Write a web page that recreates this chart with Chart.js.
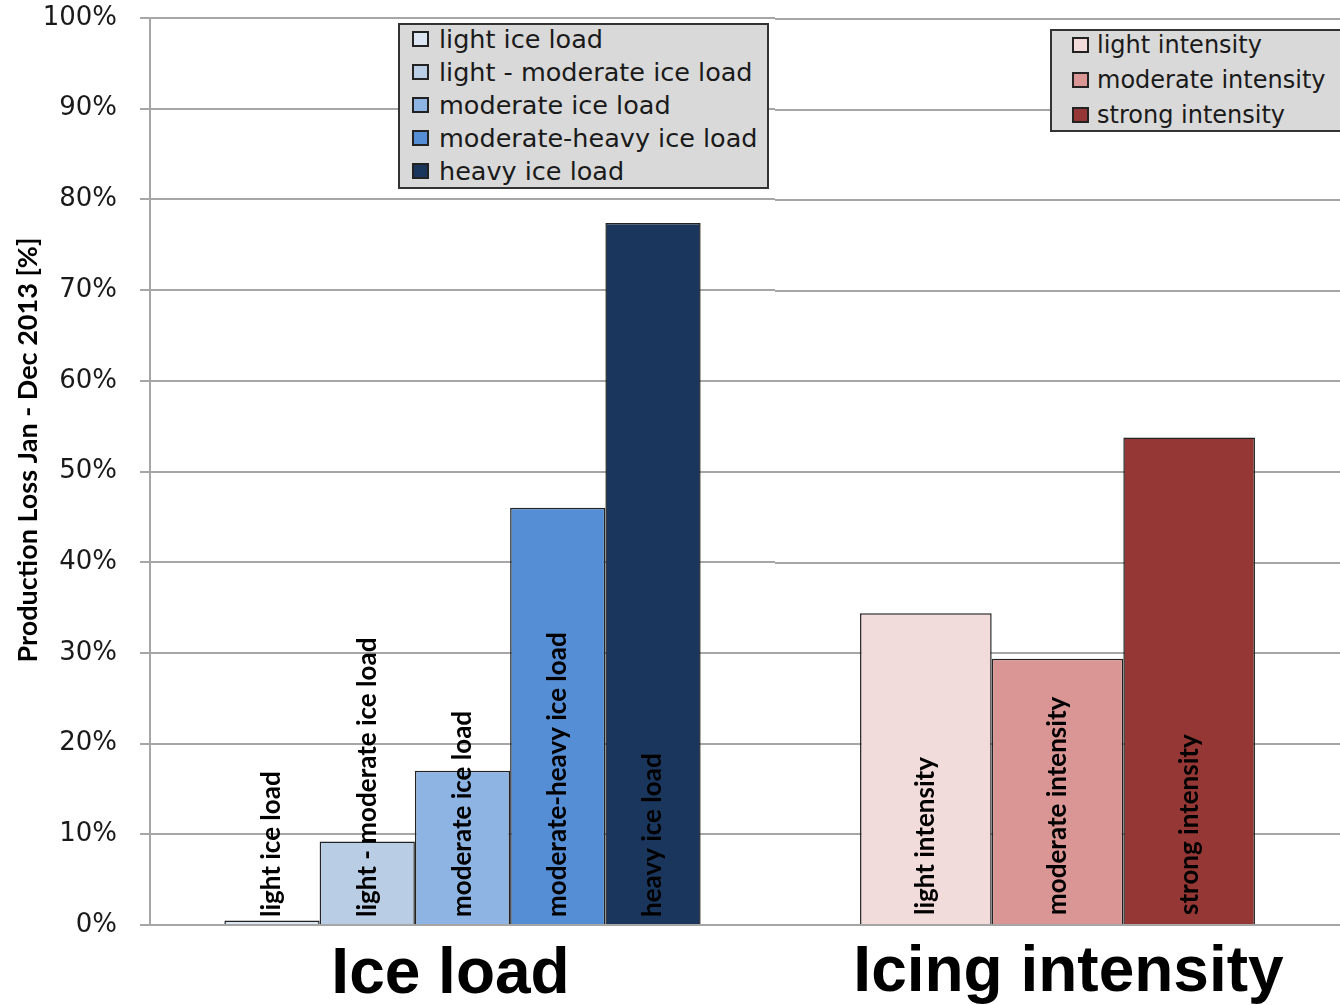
<!DOCTYPE html>
<html><head><meta charset="utf-8">
<script src="https://cdn.jsdelivr.net/npm/chart.js@4.4.0/dist/chart.umd.min.js"></script>
<style>
html,body{margin:0;padding:0;background:#fff;}
#wrap{position:relative;width:1340px;height:1005px;overflow:hidden;background:#fff;}
#c1{position:absolute;left:0;top:0;}
#c2{position:absolute;left:775px;top:0;}
.legend{position:absolute;background:#d9d9d9;border:2px solid #333;box-sizing:border-box;font-family:"DejaVu Sans";color:#1a1a1a;}
.legend .row{position:absolute;white-space:nowrap;height:30px;line-height:30px;}
.legend .sw{position:absolute;top:7px;width:17px;height:16px;border:2px solid #222;box-sizing:border-box;}
.legend .tx{position:absolute;top:0;}
</style>
</head><body>
<div id="wrap">
<canvas id="c1" width="775" height="1005"></canvas>
<canvas id="c2" width="565" height="1005"></canvas>
<div id="leg1" class="legend" style="left:398px;top:23px;width:371px;height:166px;font-size:25.5px;"></div>
<div id="leg2" class="legend" style="left:1050px;top:29px;width:310px;height:103px;font-size:24px;"></div>
</div>
<script>
// ---- data ----
const groupLabels = ['Ice load', 'Icing intensity'];
const iceCategories = ['light ice load', 'light - moderate ice load', 'moderate ice load', 'moderate-heavy ice load', 'heavy ice load'];
const iceValues = [0.5, 9.2, 17.0, 46.0, 77.4];
const iceColors = ['#dce6f2', '#b9cde5', '#8eb4e3', '#558ed5', '#1a365d'];
const intensityCategories = ['light intensity', 'moderate intensity', 'strong intensity'];
const intensityValues = [34.4, 29.4, 53.8];
const intensityColors = ['#f2dcdb', '#d99694', '#953735'];
const yTickValues = [0, 10, 20, 30, 40, 50, 60, 70, 80, 90, 100];
const yTitle = 'Production Loss Jan - Dec 2013 [%]';

// ---- helpers ----
const barTextPlugin = {
  id: 'barText',
  afterDatasetsDraw(chart, args, opts) {
    const ctx = chart.ctx;
    ctx.save();
    ctx.font = opts.font;
    ctx.fillStyle = '#000';
    ctx.textAlign = 'left';
    ctx.textBaseline = 'middle';
    chart.data.datasets.forEach((ds, i) => {
      const meta = chart.getDatasetMeta(i);
      meta.data.forEach(bar => {
        ctx.save();
        ctx.translate(bar.x, bar.base - opts.offset);
        ctx.rotate(-Math.PI / 2);
        ctx.fillText(ds.label, 0, 0);
        ctx.restore();
      });
    });
    ctx.restore();
  }
};

const yTitlePlugin = {
  id: 'yTitle',
  afterDraw(chart, args, opts) {
    if (!opts.text) return;
    const ctx = chart.ctx;
    ctx.save();
    ctx.font = opts.font;
    ctx.fillStyle = '#000';
    ctx.textAlign = 'center';
    ctx.textBaseline = 'middle';
    ctx.translate(opts.x, opts.y);
    ctx.rotate(-Math.PI / 2);
    ctx.fillText(opts.text, 0, 0);
    ctx.restore();
  }
};

function makeDatasets(cats, vals, cols) {
  return cats.map((c, i) => ({
    label: c,
    data: [vals[i]],
    backgroundColor: cols[i],
    borderColor: '#222',
    borderWidth: 1.5
  }));
}

const gridColor = '#a6a6a6';
const bigFont = {family: 'Liberation Sans', weight: 'bold', size: 64};

function yTickCb(v) { return yTickValues.includes(v) ? v + '%' : ''; }

new Chart(document.getElementById('c1'), {
  type: 'bar',
  data: {labels: [groupLabels[0]], datasets: makeDatasets(iceCategories, iceValues, iceColors)},
  options: {
    responsive: false, animation: false,
    layout: {padding: {top: 18, left: 0, right: 0, bottom: 0}},
    datasets: {bar: {categoryPercentage: 0.762, barPercentage: 1}},
    plugins: {legend: {display: false}, tooltip: {enabled: false},
      barText: {font: 'bold 26px Lato', offset: 7},
      yTitle: {text: yTitle, font: 'bold 27px Lato', x: 28, y: 450}},
    scales: {
      x: {
        ticks: {font: bigFont, color: '#000', padding: 4, labelOffset: -12},
        grid: {display: false}, border: {display: false},
        afterFit(s) { s.height = 80; }
      },
      y: {
        min: 0, max: 100,
        ticks: {stepSize: 10, callback: yTickCb, font: {family: 'DejaVu Sans', size: 26}, color: '#1a1a1a', padding: 23},
        grid: {color: gridColor, lineWidth: 2, tickLength: 10},
        border: {color: gridColor, width: 2},
        afterFit(s) { s.width = 150; s.paddingTop = 0; s.paddingBottom = 0; }
      }
    }
  },
  plugins: [barTextPlugin, yTitlePlugin]
});

new Chart(document.getElementById('c2'), {
  type: 'bar',
  data: {labels: [groupLabels[1]], datasets: makeDatasets(intensityCategories, intensityValues, intensityColors)},
  options: {
    responsive: false, animation: false,
    layout: {padding: {top: 19, left: 0, right: 0, bottom: 0}},
    datasets: {bar: {categoryPercentage: 0.699, barPercentage: 1}},
    plugins: {legend: {display: false}, tooltip: {enabled: false},
      barText: {font: 'bold 26px Lato', offset: 9}},
    scales: {
      x: {
        ticks: {font: bigFont, color: '#000', padding: 2, labelOffset: 11},
        grid: {display: false}, border: {display: false},
        afterFit(s) { s.height = 80; }
      },
      y: {
        min: 0, max: 100,
        ticks: {display: false, stepSize: 10},
        grid: {color: gridColor, lineWidth: 2, drawTicks: false},
        border: {display: false},
        afterFit(s) { s.width = 0; s.paddingTop = 0; s.paddingBottom = 0; }
      }
    }
  },
  plugins: [barTextPlugin]
});

// ---- legends built from the same arrays ----
function buildLegend(id, cats, cols, firstCenter, spacing, swLeft, txLeft) {
  const el = document.getElementById(id);
  cats.forEach((c, i) => {
    const row = document.createElement('div');
    row.className = 'row';
    row.style.top = (firstCenter + i * spacing - 15) + 'px';
    row.style.left = '0px';
    const sw = document.createElement('div');
    sw.className = 'sw';
    sw.style.left = swLeft + 'px';
    sw.style.background = cols[i];
    const tx = document.createElement('div');
    tx.className = 'tx';
    tx.style.left = txLeft + 'px';
    tx.textContent = c;
    row.appendChild(sw); row.appendChild(tx);
    el.appendChild(row);
  });
}
buildLegend('leg1', iceCategories, iceColors, 14, 33, 12, 39);
buildLegend('leg2', intensityCategories, intensityColors, 14, 35, 20, 45);
</script>
</body></html>
